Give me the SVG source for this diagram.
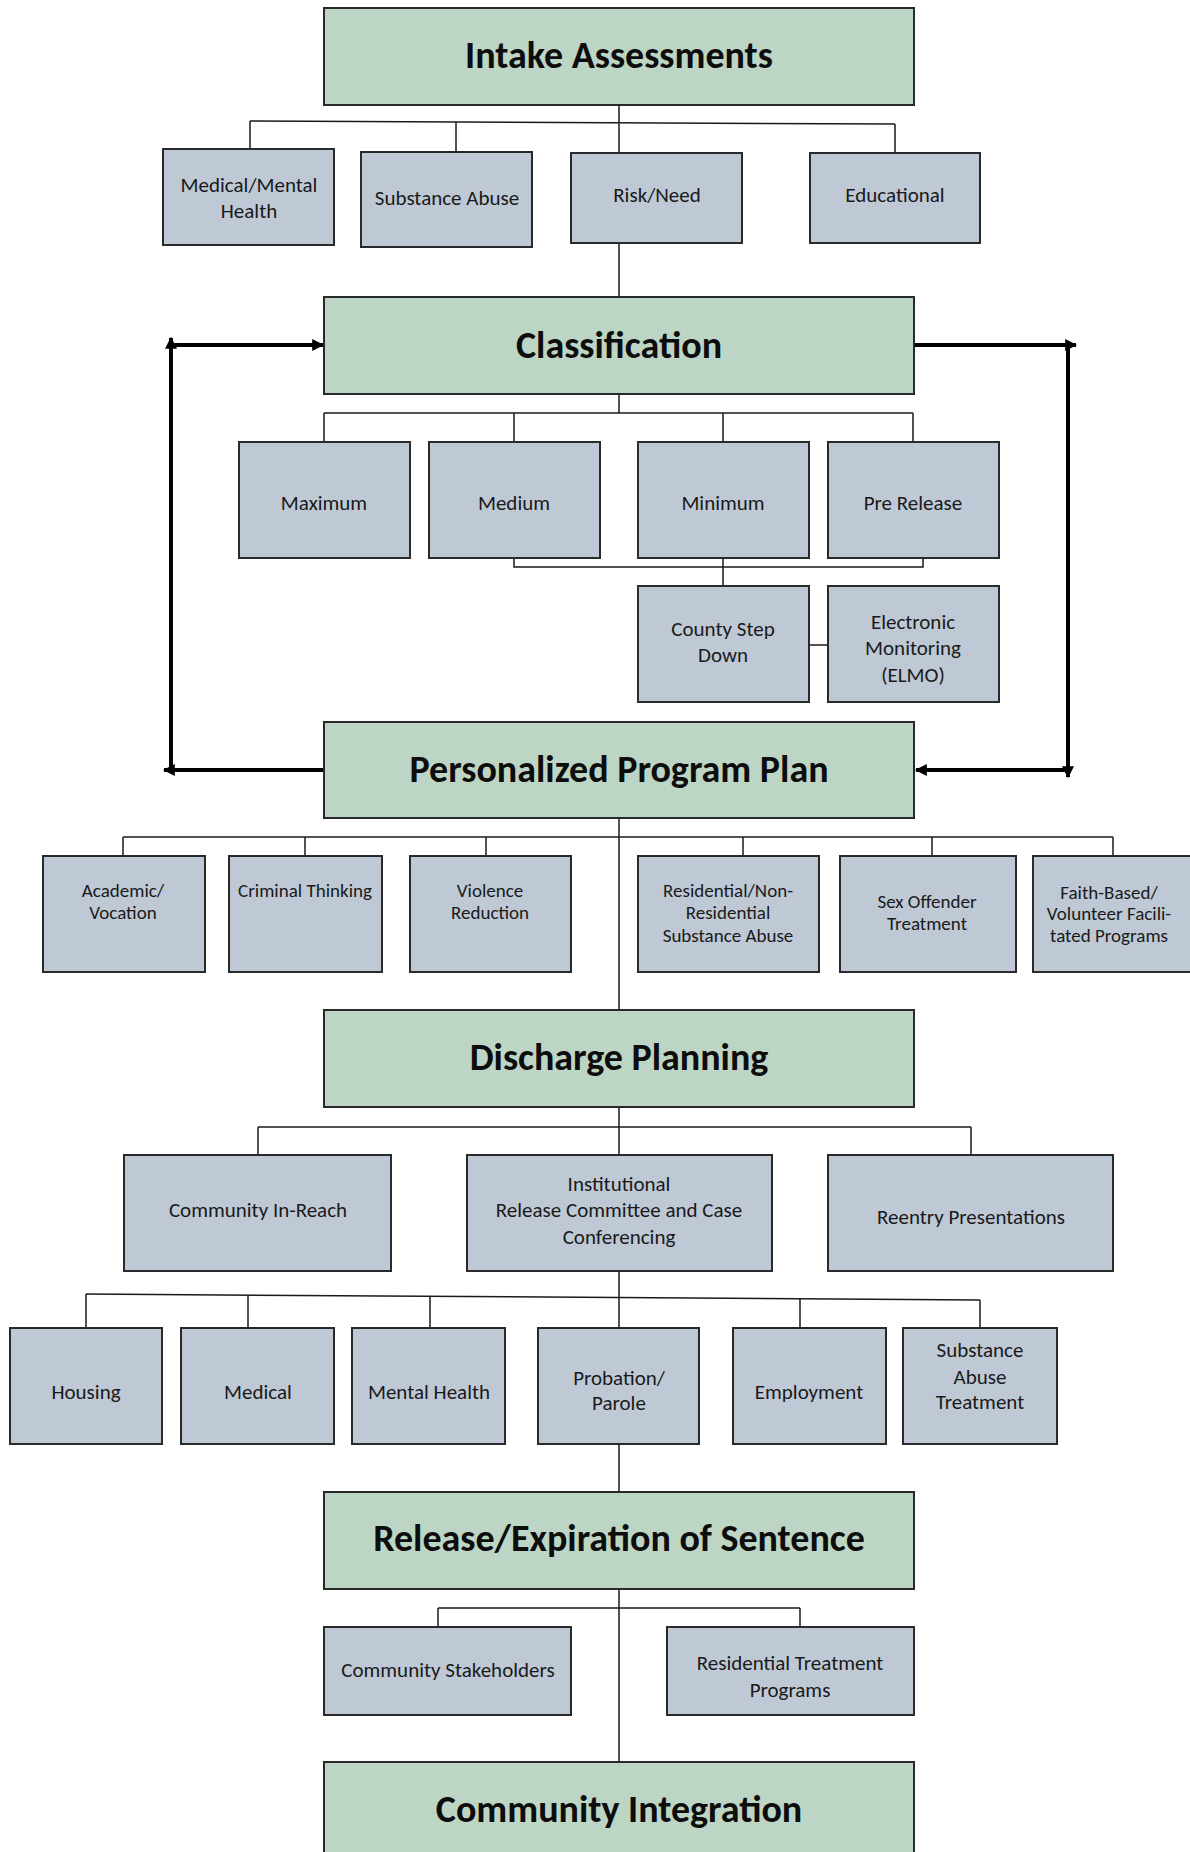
<svg xmlns="http://www.w3.org/2000/svg" width="1190" height="1852" viewBox="0 0 1190 1852">
<style>
  .main rect { fill: #bdd5c4; stroke: #2a2a2a; stroke-width: 2; }
  .sub rect { fill: #bec9d5; stroke: #2a2a2a; stroke-width: 2; }
  .main text { font-family: Carlito, Lato, "Liberation Sans", sans-serif; font-weight: bold; font-size: 38px; fill: #0d0d0d; text-anchor: middle; }
  .sub text { font-family: Carlito, Lato, "Liberation Sans", sans-serif; font-size: 21px; fill: #1a1a1a; text-anchor: middle; }
  .sm text { font-size: 19px; }
  .conn line, .conn polyline { stroke: #1a1a1a; stroke-width: 1.5; fill: none; }
  .loop line { stroke: #000; stroke-width: 4; fill: none; }
</style>
<defs>
  <marker id="ah" viewBox="0 0 10 10" refX="9" refY="5" markerWidth="12" markerHeight="12" markerUnits="userSpaceOnUse" orient="auto">
    <path d="M0,0 L10,5 L0,10 z" fill="#000"/>
  </marker>
</defs>
<rect width="1190" height="1852" fill="#fff"/>

<g class="conn" id="connectors">
  <!-- Intake -->
  <line x1="619" y1="105" x2="619" y2="153"/>
  <line x1="250" y1="121" x2="895" y2="124"/>
  <line x1="250" y1="121" x2="250" y2="149"/>
  <line x1="456" y1="122" x2="456" y2="152"/>
  <line x1="895" y1="124" x2="895" y2="153"/>
  <line x1="619" y1="243" x2="619" y2="297"/>
  <!-- Classification -->
  <line x1="619" y1="394" x2="619" y2="413"/>
  <line x1="324" y1="413" x2="913" y2="413"/>
  <line x1="324" y1="413" x2="324" y2="442"/>
  <line x1="514" y1="413" x2="514" y2="442"/>
  <line x1="723" y1="413" x2="723" y2="442"/>
  <line x1="913" y1="413" x2="913" y2="442"/>
  <polyline points="514,558 514,567 923,567 923,558"/>
  <line x1="723" y1="558" x2="723" y2="586"/>
  <line x1="809" y1="645" x2="828" y2="645"/>
  <!-- PPP -->
  <line x1="619" y1="818" x2="619" y2="1010"/>
  <line x1="123" y1="837" x2="1113" y2="837"/>
  <line x1="123" y1="837" x2="123" y2="856"/>
  <line x1="305" y1="837" x2="305" y2="856"/>
  <line x1="486" y1="837" x2="486" y2="856"/>
  <line x1="743" y1="837" x2="743" y2="856"/>
  <line x1="932" y1="837" x2="932" y2="856"/>
  <line x1="1113" y1="837" x2="1113" y2="856"/>
  <!-- Discharge -->
  <line x1="619" y1="1107" x2="619" y2="1155"/>
  <line x1="258" y1="1127" x2="971" y2="1127"/>
  <line x1="258" y1="1127" x2="258" y2="1155"/>
  <line x1="971" y1="1127" x2="971" y2="1155"/>
  <line x1="619" y1="1271" x2="619" y2="1328"/>
  <line x1="86" y1="1294" x2="980" y2="1300"/>
  <line x1="86" y1="1294" x2="86" y2="1328"/>
  <line x1="248" y1="1295" x2="248" y2="1328"/>
  <line x1="430" y1="1296" x2="430" y2="1328"/>
  <line x1="800" y1="1299" x2="800" y2="1328"/>
  <line x1="980" y1="1300" x2="980" y2="1328"/>
  <line x1="619" y1="1444" x2="619" y2="1492"/>
  <!-- Release -->
  <line x1="619" y1="1589" x2="619" y2="1762"/>
  <line x1="438" y1="1608" x2="800" y2="1608"/>
  <line x1="438" y1="1608" x2="438" y2="1627"/>
  <line x1="800" y1="1608" x2="800" y2="1627"/>
</g>

<g class="loop" id="feedback-arrows">
  <line x1="324" y1="770" x2="164" y2="770" marker-end="url(#ah)"/>
  <line x1="171" y1="770" x2="171" y2="338" marker-end="url(#ah)"/>
  <line x1="171" y1="345" x2="323" y2="345" marker-end="url(#ah)"/>
  <line x1="914" y1="345" x2="1076" y2="345" marker-end="url(#ah)"/>
  <line x1="1068" y1="345" x2="1068" y2="777" marker-end="url(#ah)"/>
  <line x1="1068" y1="770" x2="916" y2="770" marker-end="url(#ah)"/>
</g>

<g class="main" id="intake"><rect x="324" y="8" width="590" height="97"/><text x="619" y="68">Intake Assessments</text></g>
<g class="sub" id="medical-mental"><rect x="163" y="149" width="171" height="96"/><text x="249" y="192">Medical/Mental</text><text x="249" y="218">Health</text></g>
<g class="sub" id="substance-abuse"><rect x="361" y="152" width="171" height="95"/><text x="447" y="205">Substance Abuse</text></g>
<g class="sub" id="risk-need"><rect x="571" y="153" width="171" height="90"/><text x="657" y="202">Risk/Need</text></g>
<g class="sub" id="educational"><rect x="810" y="153" width="170" height="90"/><text x="895" y="202">Educational</text></g>

<g class="main" id="classification"><rect x="324" y="297" width="590" height="97"/><text x="619" y="358">Classification</text></g>
<g class="sub" id="maximum"><rect x="239" y="442" width="171" height="116"/><text x="324" y="510">Maximum</text></g>
<g class="sub" id="medium"><rect x="429" y="442" width="171" height="116"/><text x="514" y="510">Medium</text></g>
<g class="sub" id="minimum"><rect x="638" y="442" width="171" height="116"/><text x="723" y="510">Minimum</text></g>
<g class="sub" id="pre-release"><rect x="828" y="442" width="171" height="116"/><text x="913" y="510">Pre Release</text></g>
<g class="sub" id="county-step-down"><rect x="638" y="586" width="171" height="116"/><text x="723" y="636">County Step</text><text x="723" y="662">Down</text></g>
<g class="sub" id="elmo"><rect x="828" y="586" width="171" height="116"/><text x="913" y="629">Electronic</text><text x="913" y="655">Monitoring</text><text x="913" y="682">(ELMO)</text></g>

<g class="main" id="ppp"><rect x="324" y="722" width="590" height="96"/><text x="619" y="782">Personalized Program Plan</text></g>
<g class="sub sm" id="academic"><rect x="43" y="856" width="162" height="116"/><text x="123" y="897">Academic/</text><text x="123" y="919">Vocation</text></g>
<g class="sub sm" id="criminal-thinking"><rect x="229" y="856" width="153" height="116"/><text x="305" y="897">Criminal Thinking</text></g>
<g class="sub sm" id="violence-reduction"><rect x="410" y="856" width="161" height="116"/><text x="490" y="897">Violence</text><text x="490" y="919">Reduction</text></g>
<g class="sub sm" id="residential-substance"><rect x="638" y="856" width="181" height="116"/><text x="728" y="897">Residential/Non-</text><text x="728" y="919">Residential</text><text x="728" y="942">Substance Abuse</text></g>
<g class="sub sm" id="sex-offender"><rect x="840" y="856" width="176" height="116"/><text x="927" y="908">Sex Offender</text><text x="927" y="930">Treatment</text></g>
<g class="sub sm" id="faith-based"><rect x="1033" y="856" width="160" height="116"/><text x="1109" y="899">Faith-Based/</text><text x="1109" y="920">Volunteer Facili-</text><text x="1109" y="942">tated Programs</text></g>

<g class="main" id="discharge"><rect x="324" y="1010" width="590" height="97"/><text x="619" y="1070">Discharge Planning</text></g>
<g class="sub" id="community-in-reach"><rect x="124" y="1155" width="267" height="116"/><text x="258" y="1217">Community In-Reach</text></g>
<g class="sub" id="institutional"><rect x="467" y="1155" width="305" height="116"/><text x="619" y="1191">Institutional</text><text x="619" y="1217">Release Committee and Case</text><text x="619" y="1244">Conferencing</text></g>
<g class="sub" id="reentry"><rect x="828" y="1155" width="285" height="116"/><text x="971" y="1224">Reentry Presentations</text></g>
<g class="sub" id="housing"><rect x="10" y="1328" width="152" height="116"/><text x="86" y="1399">Housing</text></g>
<g class="sub" id="medical"><rect x="181" y="1328" width="153" height="116"/><text x="258" y="1399">Medical</text></g>
<g class="sub" id="mental-health"><rect x="352" y="1328" width="153" height="116"/><text x="429" y="1399">Mental Health</text></g>
<g class="sub" id="probation"><rect x="538" y="1328" width="161" height="116"/><text x="619" y="1385">Probation/</text><text x="619" y="1410">Parole</text></g>
<g class="sub" id="employment"><rect x="733" y="1328" width="153" height="116"/><text x="809" y="1399">Employment</text></g>
<g class="sub" id="sa-treatment"><rect x="903" y="1328" width="154" height="116"/><text x="980" y="1357">Substance</text><text x="980" y="1384">Abuse</text><text x="980" y="1409">Treatment</text></g>

<g class="main" id="release"><rect x="324" y="1492" width="590" height="97"/><text x="619" y="1551">Release/Expiration of Sentence</text></g>
<g class="sub" id="community-stakeholders"><rect x="324" y="1627" width="247" height="88"/><text x="448" y="1677">Community Stakeholders</text></g>
<g class="sub" id="residential-treatment"><rect x="667" y="1627" width="247" height="88"/><text x="790" y="1670">Residential Treatment</text><text x="790" y="1697">Programs</text></g>

<g class="main" id="community-integration"><rect x="324" y="1762" width="590" height="97"/><text x="619" y="1822">Community Integration</text></g>
</svg>
